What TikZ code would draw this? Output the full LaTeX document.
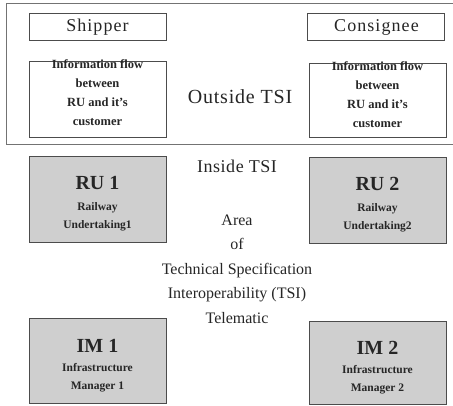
\documentclass[tikz,border=0pt]{standalone}
\usepackage{fontspec}
\setmainfont{Liberation Serif}
\begin{document}
\begin{tikzpicture}[x=1pt,y=-1pt,
  wbox/.style={draw=black!70,line width=0.8pt,fill=white,inner sep=0pt},
  gbox/.style={draw=black!70,line width=0.9pt,fill=black!19,inner sep=0pt},
  txt/.style={text=black!85,inner sep=0pt,align=center},
  big/.style={font=\fontsize{18}{18}\selectfont\addfontfeature{LetterSpace=6}},
  info/.style={font=\fontsize{12.5}{19}\selectfont\bfseries},
  head/.style={font=\fontsize{20}{20}\selectfont\bfseries},
  sub/.style={font=\fontsize{11.5}{18}\selectfont\bfseries}]
\useasboundingbox (0,0) rectangle (453,405);
\fill[white] (0,0) rectangle (453,405);
% outer Outside TSI frame
\draw[black!55,line width=0.8pt] (458,3) -- (6,3) -- (6,144) -- (458,144);
% top boxes
\draw[wbox] (29,13) rectangle (166,40);
\node[txt,big] (shipper) at (97.5,27) {Shipper};
\draw[wbox] (307,13) rectangle (444,40);
\node[txt,big] (consignee) at (376.5,27) {Consignee};
\draw[wbox] (29,61) rectangle (166,137);
\node[txt,info] (info1) at (97.5,93) {Information flow\\between\\RU and it's\\customer};
\draw[wbox] (309,63) rectangle (446,137);
\node[txt,info] (info2) at (377.5,95) {Information flow\\between\\RU and it's\\customer};
\node[txt,font=\fontsize{20}{20}\selectfont\addfontfeature{LetterSpace=4}] (outside) at (240,97) {Outside TSI};
% inside
\node[txt,font=\fontsize{18}{18}\selectfont\addfontfeature{LetterSpace=3}] (inside) at (237,166) {Inside TSI};
\node[txt,font=\fontsize{16}{24.5}\selectfont,align=center] (area) at (237,269) {Area\\of\\Technical Specification\\Interoperability (TSI)\\Telematic};
% gray boxes
\draw[gbox] (29,156) rectangle (166,242);
\node[txt,head] (ru1) at (97.5,183) {RU 1};
\node[txt,sub] (ru1s) at (97.5,217) {Railway\\Undertaking1};
\draw[gbox] (309,157) rectangle (446,243);
\node[txt,head] (ru2) at (377.5,184) {RU 2};
\node[txt,sub] (ru2s) at (377.5,218) {Railway\\Undertaking2};
\draw[gbox] (29,318) rectangle (166,403);
\node[txt,head] (im1) at (97.5,346) {IM 1};
\node[txt,sub] (im1s) at (97.5,378) {Infrastructure\\Manager 1};
\draw[gbox] (309,321) rectangle (446,404);
\node[txt,head] (im2) at (377.5,348) {IM 2};
\node[txt,sub] (im2s) at (377.5,380) {Infrastructure\\Manager 2};
\end{tikzpicture}
\end{document}
